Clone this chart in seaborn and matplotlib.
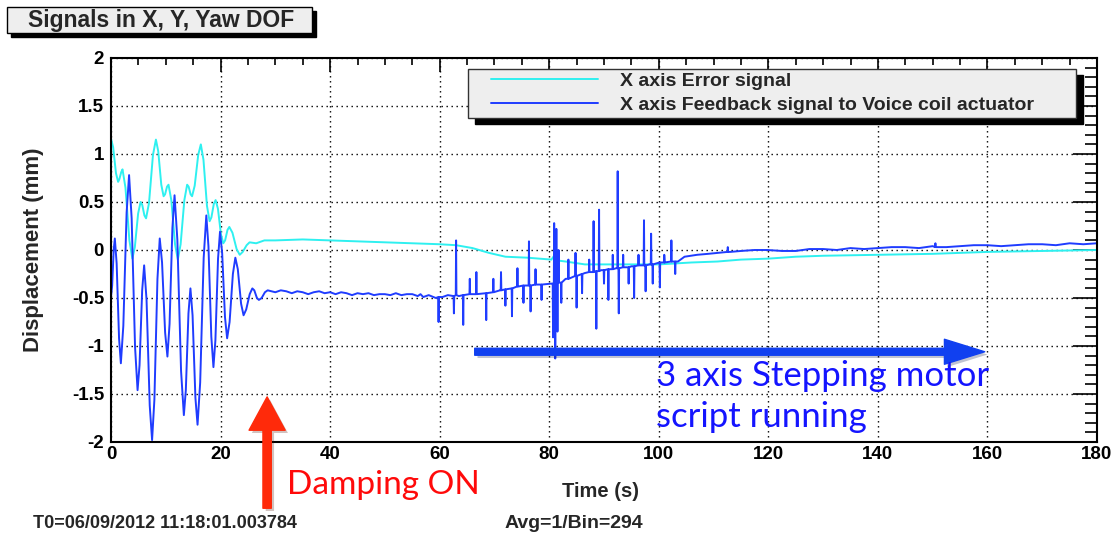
import matplotlib
matplotlib.use("Agg")
import numpy as np
import pandas as pd
import matplotlib.pyplot as plt
import seaborn as sns
from matplotlib.patches import Rectangle
from matplotlib.ticker import MultipleLocator
import matplotlib.patheffects as pe

# ---------------- data ----------------
series_names = ["X axis Error signal",
                "X axis Feedback signal to Voice coil actuator"]

# Error signal (cyan)
err_t = [0.0, 0.39, 0.91, 1.3, 1.54, 1.86, 2.1, 2.64, 3.36, 3.9, 4.35, 4.95, 5.4, 5.7, 6.1,
         6.4, 6.94, 7.66, 8.2, 8.62, 9.18, 9.6, 9.87, 10.23, 10.5, 11.01, 11.69, 12.2, 12.71,
         13.39, 13.9, 14.17, 14.53, 14.8, 15.28, 15.92, 16.4, 16.88, 17.52, 18.0, 18.33, 18.77,
         19.1, 19.52, 20.08, 20.5, 20.83, 21.27, 21.6, 22.17, 22.93, 23.5, 24.04, 24.76, 25.3,
         26.5, 28, 30, 35, 40, 45, 50, 55, 60, 63, 66, 69, 72, 76, 80.4, 81, 81.6, 83, 86.5,
         90, 95, 100, 103, 106, 110.7, 115, 120, 125, 130, 140, 150, 160, 170, 180]
err_y = [1.16, 1.07, 0.80, 0.71, 0.74, 0.81, 0.84, 0.65, 0.10, -0.09, 0.03, 0.38, 0.50, 0.47, 0.36,
         0.33, 0.49, 0.99, 1.15, 1.03, 0.68, 0.56, 0.58, 0.66, 0.68, 0.52, 0.06, -0.10, 0.06,
         0.52, 0.68, 0.66, 0.58, 0.56, 0.67, 0.99, 1.10, 0.94, 0.46, 0.30, 0.34, 0.48,
         0.52, 0.43, 0.16, 0.07, 0.10, 0.21, 0.24, 0.18, 0.01, -0.05, -0.02, 0.05, 0.08,
         0.07, 0.10, 0.10, 0.11, 0.10, 0.09, 0.08, 0.07, 0.06, 0.05, 0.02, -0.03, -0.07, -0.08, -0.10, -0.05, -0.11, -0.12, -0.15,
         -0.15, -0.15, -0.15, -0.14, -0.13, -0.12, -0.10, -0.09, -0.07, -0.06, -0.05, -0.04, -0.02, -0.01, 0.0]

# Feedback signal (blue): underlying trace
fb_t = [0.0, 0.21, 0.49, 0.7, 1.03, 1.47, 1.8, 2.25, 2.85, 3.3, 3.77, 4.39, 4.85, 5.21, 5.69,
        6.05, 6.49, 7.07, 7.5, 7.92, 8.48, 8.9, 9.32, 9.88, 10.3, 10.69, 11.21, 11.6, 12.11,
        12.79, 13.3, 13.66, 14.14, 14.5, 14.89, 15.41, 15.8, 16.28, 16.92, 17.4, 17.79, 18.31,
        18.7, 19.06, 19.54, 19.9, 20.29, 20.81, 21.2, 21.65, 22.25, 22.7, 23.15, 23.75, 24.2,
        24.68, 25.32, 25.8, 26.16, 26.64, 27.0, 27.5, 28.1, 28.6,
        30, 31, 32, 33, 34, 35, 36, 37, 38, 39, 40, 41, 42, 43, 44, 45, 46, 47, 48, 49, 50,
        51, 52, 53, 54, 55, 56, 56.5, 57, 58, 59.3, 60.5, 61.5,
        63.5, 66, 68.3, 71, 74.4, 78, 80.4, 83, 86.5, 89.5, 92.2, 95, 98.3, 101, 103.5, 104.7,
        107, 109, 110.7, 113, 115, 117.5, 119.8, 122.5, 125, 127.5, 130, 132.5, 135, 137.5,
        140, 142.5, 145, 147.5, 150, 152.5, 155, 157.5, 160, 162.5, 165, 167.5, 170, 172.5,
        175, 177.5, 180]
fb_y = [-0.49, -0.37, 0.0, 0.12, -0.14, -0.92, -1.18, -0.79, 0.39, 0.78, 0.33, -1.01, -1.46, -1.20, -0.42,
        -0.16, -0.52, -1.62, -1.98, -1.56, -0.30, 0.12, -0.13, -0.86, -1.11, -0.77, 0.23, 0.57, 0.11,
        -1.26, -1.72, -1.46, -0.66, -0.40, -0.68, -1.54, -1.82, -1.38, -0.08, 0.36, 0.04, -0.90,
        -1.22, -0.94, -0.09, 0.19, -0.03, -0.70, -0.92, -0.75, -0.25, -0.08, -0.20, -0.56, -0.68,
        -0.62, -0.46, -0.40, -0.42, -0.50, -0.52, -0.50, -0.44, -0.42,
        -0.44, -0.42, -0.43, -0.45, -0.43, -0.44, -0.46, -0.44, -0.43, -0.45, -0.44, -0.46, -0.44, -0.45, -0.47, -0.45, -0.46, -0.45, -0.47, -0.46, -0.46,
        -0.47, -0.45, -0.47, -0.46, -0.46, -0.48, -0.46, -0.49, -0.47, -0.50, -0.49, -0.47,
        -0.48, -0.46, -0.45, -0.42, -0.38, -0.36, -0.35, -0.30, -0.24, -0.21, -0.19, -0.17, -0.15, -0.13, -0.12, -0.07,
        -0.05, -0.04, -0.03, -0.02, -0.01, 0.00, 0.0, -0.01, -0.01, 0.01, 0.01, 0.00, 0.02, 0.01,
        0.02, 0.03, 0.03, 0.02, 0.04, 0.03, 0.04, 0.05, 0.05, 0.04, 0.05, 0.06, 0.06, 0.05,
        0.07, 0.06, 0.07]

# Feedback signal spikes: time, local base level, spike tip
spike_t = [59.8, 62.6, 63.0, 64.3, 65.5, 66.7, 68.5, 69.8, 71.2, 72.0, 73.2, 74.2, 75.3, 76.3,
           76.6, 77.5, 78.6, 80.7, 80.9, 81.1, 81.3, 81.5, 81.7, 82.2, 83.5, 84.8, 85.0, 86.0,
           87.3, 88.1, 88.6, 89.1, 90.0, 90.8, 91.6, 92.5, 92.7, 93.5, 94.5, 95.5, 96.3, 97.3,
           97.6, 98.6, 98.9, 100.2, 101.0, 102.3, 103.0, 112.6, 150.5]
spike_base = [-0.49, -0.48, -0.47, -0.47, -0.46, -0.46, -0.45, -0.44, -0.42, -0.41, -0.40, -0.38, -0.37, -0.37,
              -0.37, -0.36, -0.36, -0.35, -0.35, -0.35, -0.35, -0.35, -0.34, -0.34, -0.30, -0.27, -0.27, -0.25,
              -0.23, -0.23, -0.22, -0.22, -0.21, -0.20, -0.20, -0.19, -0.19, -0.18, -0.18, -0.17, -0.16, -0.16,
              -0.16, -0.15, -0.15, -0.13, -0.13, -0.12, -0.12, -0.02, 0.03]
spike_peak = [-0.75, -0.66, 0.10, -0.78, -0.30, -0.23, -0.73, -0.30, -0.23, -0.58, -0.69, -0.19, -0.55, 0.09,
              -0.64, -0.20, -0.52, -0.91, 0.28, -1.13, 0.22, -0.85, 0.00, -0.55, -0.10, -0.03, -0.60, -0.45,
              -0.10, 0.30, -0.82, 0.42, -0.35, -0.52, -0.05, 0.82, -0.66, -0.05, -0.35, -0.50, -0.05, 0.31,
              -0.43, 0.17, -0.35, -0.39, -0.05, 0.10, -0.25, 0.03, 0.07]

x_ticks = [0, 20, 40, 60, 80, 100, 120, 140, 160, 180]
x_tick_labels = ["0", "20", "40", "60", "80", "100", "120", "140", "160", "180"]
y_ticks = [-2, -1.5, -1, -0.5, 0, 0.5, 1, 1.5, 2]
y_tick_labels = ["-2", "-1.5", "-1", "-0.5", "0", "0.5", "1", "1.5", "2"]

title_text = "Signals in X, Y, Yaw DOF"
x_label = "Time (s)"
y_label = "Displacement (mm)"
footer_left = "T0=06/09/2012 11:18:01.003784"
footer_right = "Avg=1/Bin=294"
note_damping = "Damping ON"
note_motor_1 = "3 axis Stepping motor"
note_motor_2 = "script running"

# ---------------- assemble tables ----------------
err_df = pd.DataFrame({"t": err_t, "y": err_y})
pts = list(zip(fb_t, fb_y))
for t, b, p in zip(spike_t, spike_base, spike_peak):
    pts += [(t - 0.06, b), (t, p), (t + 0.06, b)]
pts.sort(key=lambda q: q[0])
fb_df = pd.DataFrame(pts, columns=["t", "y"])

# ---------------- style ----------------
sns.set_style("white")
plt.rcParams["font.family"] = ["Liberation Sans", "DejaVu Sans"]

W, H = 1115, 538
fig = plt.figure(figsize=(W / 100, H / 100), dpi=100)
fig.patch.set_facecolor("white")
ax = fig.add_axes([111 / W, 96 / H, 986 / W, 384 / H])

CYAN = "#2ef0f0"
BLUE = "#1f3cff"

sns.lineplot(data=err_df, x="t", y="y", ax=ax, estimator=None, sort=False,
             color=CYAN, linewidth=1.4, label=series_names[0], legend=False)
sns.lineplot(data=fb_df, x="t", y="y", ax=ax, estimator=None, sort=False,
             color=BLUE, linewidth=1.4, label=series_names[1], legend=False)

ax.set_xlim(0, 180)
ax.set_ylim(-2, 2)
ax.set_xticks(x_ticks)
ax.set_xticklabels(x_tick_labels, fontweight="bold")
ax.set_yticks(y_ticks)
ax.set_yticklabels(y_tick_labels, fontweight="bold")
ax.xaxis.set_minor_locator(MultipleLocator(5))
ax.yaxis.set_minor_locator(MultipleLocator(0.1))

ax.tick_params(axis="both", which="both", direction="in", top=True, right=True,
               colors="black", width=1.2)
ax.tick_params(axis="y", which="major", length=17, pad=5, labelsize=13.5)
ax.tick_params(axis="y", which="minor", length=9)
ax.tick_params(axis="x", which="major", length=10, pad=3, labelsize=13.5)
ax.tick_params(axis="x", which="minor", length=5)

ax.grid(True, which="major", color="black", linestyle=(0, (1, 2.6)), linewidth=1.0)
for s in ax.spines.values():
    s.set_color("black")
    s.set_linewidth(1.5)

ax.set_xlabel(x_label, fontsize=14.5, fontweight="bold")
ax.set_ylabel(y_label, fontsize=16, fontweight="bold")
ax.xaxis.set_label_coords((601 - 111) / 986, (442 - 482) / 384)
ax.yaxis.set_label_coords((44 - 111) / 986, 0.5)

# ---------------- legend (ROOT-style box with shadow) ----------------
bx0, by0, bw, bh = (468 - 111) / 986, (442 - 118) / 384, 608 / 986, 49 / 384
ax.add_patch(Rectangle((bx0 + 7 / 986, by0 - 6 / 384), bw, bh, transform=ax.transAxes,
                       facecolor="black", edgecolor="black", clip_on=False, zorder=6))
ax.add_patch(Rectangle((bx0, by0), bw, bh, transform=ax.transAxes,
                       facecolor="#eeeeee", edgecolor="#333333", linewidth=1.0,
                       clip_on=False, zorder=7))
leg = ax.legend(handles=ax.lines[:2], labels=series_names, loc="center left",
                bbox_to_anchor=((491 - 111) / 986, (442 - 93) / 384),
                frameon=False, borderpad=0, borderaxespad=0, handlelength=5.5,
                handletextpad=1.13, labelspacing=0.35,
                prop={"weight": "bold", "size": 14, "family": ["Liberation Sans"]})
leg.set_zorder(8)

# ---------------- title box ----------------
fig.add_artist(Rectangle((11 / W, 1 - 37 / H), 305 / W, 26 / H, transform=fig.transFigure,
                         facecolor="black", edgecolor="black"))
fig.add_artist(Rectangle((7 / W, 1 - 33 / H), 305 / W, 26 / H, transform=fig.transFigure,
                         facecolor="#eeeeee", edgecolor="black", linewidth=1.0))
fig.text(161 / W, 1 - 20 / H, title_text, ha="center", va="center",
         fontsize=16.5, fontweight="bold")

# ---------------- footer texts ----------------
fig.text(33 / W, 1 - 524 / H, footer_left, ha="left", va="center", fontsize=13, fontweight="bold")
fig.text(505 / W, 1 - 524 / H, footer_right, ha="left", va="center", fontsize=14, fontweight="bold")

# ---------------- annotations ----------------
shadow = [pe.SimplePatchShadow(offset=(2, -2), alpha=0.25), pe.Normal()]
ax.annotate("", xy=(28.5, -1.53), xytext=(28.5, -2.69), xycoords="data",
            annotation_clip=False,
            arrowprops=dict(arrowstyle="simple,head_length=24,head_width=26,tail_width=6",
                            mutation_scale=1, color="#ff2a0a", shrinkA=0, shrinkB=0,
                            path_effects=shadow))
ax.annotate("", xy=(159.5, -1.06), xytext=(66.4, -1.06), xycoords="data",
            annotation_clip=False,
            arrowprops=dict(arrowstyle="simple,head_length=29,head_width=18,tail_width=5",
                            mutation_scale=1, color="#1040f0", shrinkA=0, shrinkB=0,
                            path_effects=shadow))
ax.text(32.2, -2.45, note_damping, ha="left", va="center", color="#ff0a0a",
        fontsize=24, family=["Lato", "DejaVu Sans"], clip_on=False)
ax.text(99.5, -1.31, note_motor_1, ha="left", va="center", color="#1414ff",
        fontsize=25, family=["Lato", "DejaVu Sans"], clip_on=False)
ax.text(99.5, -1.74, note_motor_2, ha="left", va="center", color="#1414ff",
        fontsize=25, family=["Lato", "DejaVu Sans"], clip_on=False)

fig.savefig("out.png", dpi=100, facecolor="white")
